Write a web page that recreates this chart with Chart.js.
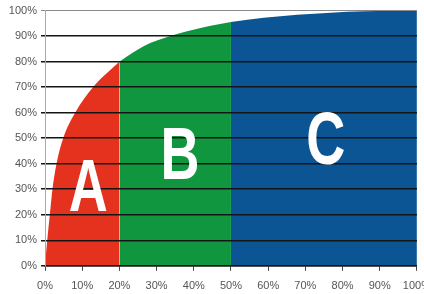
<!DOCTYPE html>
<html>
<head>
<meta charset="utf-8">
<script src="https://cdn.jsdelivr.net/npm/chart.js@4.4.1/dist/chart.umd.min.js"></script>
<style>
  html, body { margin: 0; padding: 0; background: #fff; overflow: hidden; }
  #wrap { width: 424px; height: 294px; overflow: hidden; }
  canvas { display: block; }
</style>
</head>
<body>
<div id="wrap"><canvas id="c" width="440" height="302"></canvas></div>
<script>
// Cumulative share of items (x, %) vs cumulative share of value (y, %)
const itemPct  = [0, 0.6, 1.3, 2, 3.1, 4.9, 8.1, 12.9, 20, 26.5, 33.7, 42.7, 50, 58.8, 67.8, 76.8, 85.8, 100];
const valuePct = [0, 10, 20, 30, 40, 50, 60, 70, 80, 86, 90, 93.5, 95.5, 97.2, 98.4, 99.2, 99.7, 100];
const classNames  = ['A', 'B', 'C'];
const classBounds = [0, 20, 50, 100];
const classColors = ['#e4321f', '#10963f', '#0b5594'];
const tickValues  = [0, 10, 20, 30, 40, 50, 60, 70, 80, 90, 100];
// label anchor (data units: x centre, y baseline)
const labelX = [11.6, 36.3, 75.5];
const labelY = [21.4, 34, 40];

const datasets = classNames.map((name, i) => {
  const lo = classBounds[i], hi = classBounds[i + 1];
  const pts = [];
  itemPct.forEach((x, k) => { if (x >= lo && x <= hi) pts.push({ x: x, y: valuePct[k] }); });
  return {
    label: name,
    data: pts,
    backgroundColor: classColors[i],
    borderWidth: 0,
    pointRadius: 0,
    fill: 'origin',
    cubicInterpolationMode: 'monotone'
  };
});

const letters = {
  id: 'letters',
  afterDraw(chart) {
    const ctx = chart.ctx, xs = chart.scales.x, ys = chart.scales.y;
    ctx.save();
    ctx.fillStyle = '#ffffff';
    ctx.font = 'bold 74px "Liberation Sans", Arial, sans-serif';
    ctx.textAlign = 'center';
    ctx.textBaseline = 'alphabetic';
    classNames.forEach((n, i) => {
      const px = xs.getPixelForValue(labelX[i]);
      const py = ys.getPixelForValue(labelY[i]);
      ctx.save();
      ctx.translate(px, py);
      ctx.scale(0.73, 1);
      ctx.fillText(n, 0, 0);
      ctx.restore();
    });
    ctx.restore();
  }
};

new Chart(document.getElementById('c'), {
  type: 'line',
  data: { datasets: datasets },
  plugins: [letters],
  options: {
    responsive: false,
    animation: false,
    events: [],
    layout: { padding: { top: 6, left: 0, right: 0, bottom: 0 } },
    plugins: { legend: { display: false }, tooltip: { enabled: false } },
    scales: {
      x: {
        type: 'linear', min: 0, max: 100,
        afterBuildTicks: s => { s.ticks = tickValues.map(v => ({ value: v })); },
        ticks: { callback: v => v + '%', color: '#555', padding: 9, maxRotation: 0,
                 font: { family: '"Liberation Sans", Arial, sans-serif', size: 11 } },
        grid: { drawOnChartArea: false, drawTicks: true, tickLength: 5, color: '#444', lineWidth: 1 },
        border: { color: '#222', width: 1.5 }
      },
      y: {
        min: 0, max: 100,
        afterBuildTicks: s => { s.ticks = tickValues.map(v => ({ value: v })); },
        afterFit: s => { s.width = 45; },
        ticks: { callback: v => v + '%', color: '#555', padding: 4,
                 font: { family: '"Liberation Sans", Arial, sans-serif', size: 11 } },
        grid: {
          z: 1,
          color: c => (c.tick && c.tick.value === 100) ? '#8a8a8a' : '#151515',
          lineWidth: c => (c.tick && c.tick.value === 100) ? 1 : 1.5,
          tickLength: 4
        },
        border: { z: 1, color: '#aaaaaa', width: 1 }
      }
    }
  }
});
</script>
</body>
</html>
